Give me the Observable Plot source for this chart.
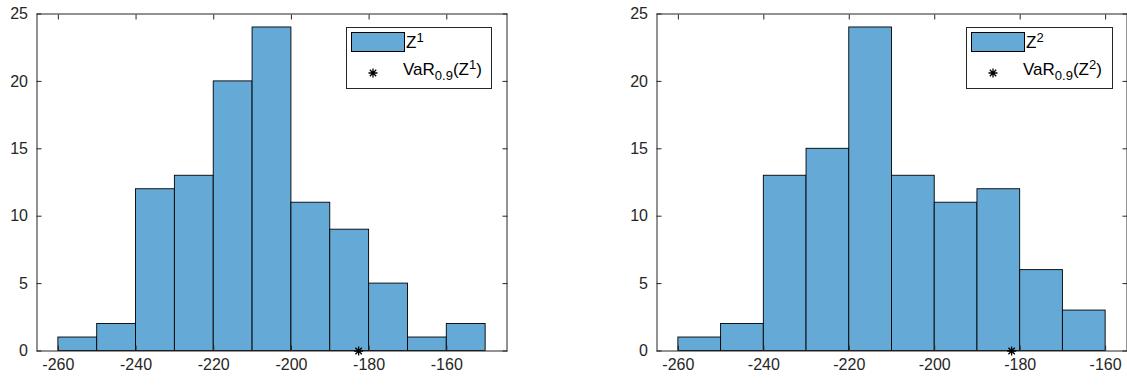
<!DOCTYPE html>
<html><head><meta charset="utf-8">
<script src="https://cdn.jsdelivr.net/npm/d3@7"></script>
<script src="https://cdn.jsdelivr.net/npm/@observablehq/plot@0.6"></script>
<style>
body{margin:0;background:#fff;}
#wrap{position:relative;width:1127px;height:385px;overflow:hidden;font-family:"Liberation Sans",Arial,sans-serif;color:#262626;background:#fff;}
.panel{position:absolute;top:0;}
.legend{position:absolute;top:27px;height:62px;border:1px solid #262626;background:#fff;box-sizing:border-box;font-size:17px;color:#000;}
.sw{position:absolute;left:4px;top:4px;width:54px;height:20px;box-sizing:border-box;border:1px solid #000;background:#65a9d7;}
.t1{position:absolute;left:59px;top:6px;line-height:18px;white-space:nowrap;}
.t2{position:absolute;left:56px;top:33px;line-height:18px;white-space:nowrap;}
.ast{position:absolute;left:20px;top:39px;}
sup{font-size:13px;vertical-align:6px;line-height:0;}
sub{font-size:13px;vertical-align:-5px;line-height:0;}
</style></head>
<body>
<div id="wrap"></div>
<script>
// Data
const binStarts1 = [-260,-250,-240,-230,-220,-210,-200,-190,-180,-170,-160];
const counts1 = [1,2,12,13,20,24,11,9,5,1,2];
const binStarts2 = [-260,-250,-240,-230,-220,-210,-200,-190,-180,-170];
const counts2 = [1,2,13,15,24,13,11,12,6,3];
const binWidth = 10;
const var1 = -182.7;
const var2 = -182.0;
const xTicks = [-260,-240,-220,-200,-180,-160];
const yTicks = [0,5,10,15,20,25];
const seriesNames = ["Z", "Z"];
const seriesIdx = ["1", "2"];

const barColor = "#65a9d7";
const star = {draw(ctx, size){
  const r = Math.sqrt(size/Math.PI), d = r*Math.SQRT1_2;
  ctx.moveTo(-r,0);ctx.lineTo(r,0);ctx.moveTo(0,-r);ctx.lineTo(0,r);
  ctx.moveTo(-d,-d);ctx.lineTo(d,d);ctx.moveTo(-d,d);ctx.lineTo(d,-d);
}};

function panel(starts, counts, varX, domain, width, ml, mr){
  const bars = starts.map((s,i)=>({x1:s, x2:s+binWidth, y:counts[i]}));
  const blank = () => "";
  const fmt = d => String(d);
  return Plot.plot({
    width, height:385, marginLeft:ml, marginRight:mr, marginTop:13.5, marginBottom:34.5,
    x:{domain, label:null},
    y:{domain:[0,25], label:null},
    style:{fontFamily:'"Liberation Sans",Arial,sans-serif', fontSize:"16px", color:"#262626", background:"white", overflow:"visible"},
    marks:[
      Plot.rectY(bars,{x1:"x1",x2:"x2",y1:0,y2:"y",fill:barColor,stroke:"#000",strokeWidth:0.9}),
      Plot.frame({stroke:"#262626"}),
      Plot.axisX(xTicks,{tickSize:0,tickPadding:8,tickFormat:fmt,label:null}),
      Plot.axisX(xTicks,{tickSize:-5,tickFormat:blank,label:null}),
      Plot.axisX(xTicks,{anchor:"top",tickSize:-5,tickFormat:blank,label:null}),
      Plot.axisY(yTicks,{tickSize:0,tickPadding:9,tickFormat:fmt,label:null}),
      Plot.axisY(yTicks,{tickSize:-5,tickFormat:blank,label:null}),
      Plot.axisY(yTicks,{anchor:"right",tickSize:-5,tickFormat:blank,label:null}),
      Plot.dot([{x:varX,y:0}],{x:"x",y:"y",symbol:star,r:4.5,fill:"none",stroke:"#000",strokeWidth:1.3})
    ]
  });
}

const wrap = document.getElementById("wrap");
const p1 = panel(binStarts1, counts1, var1, [-265.5,-144.5], 563, 36.5, 56.5);
p1.classList.add("panel"); p1.style.left = "0px";
const p2 = panel(binStarts2, counts2, var2, [-265,-155], 564, 93.5, 0.5);
p2.classList.add("panel"); p2.style.left = "563px";
wrap.appendChild(p1); wrap.appendChild(p2);

const astSvg = '<svg class="ast" width="12" height="12" viewBox="-6 -6 12 12"><path d="M-4.5,0L4.5,0M0,-4.5L0,4.5M-3.2,-3.2L3.2,3.2M-3.2,3.2L3.2,-3.2" stroke="#000" stroke-width="1.3"/></svg>';
function legend(left, w, k){
  const d = document.createElement("div");
  d.className = "legend";
  d.style.left = left + "px"; d.style.width = w + "px";
  d.innerHTML = '<div class="sw"></div><div class="t1">' + seriesNames[k] + '<sup>' + seriesIdx[k] + '</sup></div>' +
    astSvg + '<div class="t2">VaR<sub>0.9</sub>(' + seriesNames[k] + '<sup>' + seriesIdx[k] + '</sup>)</div>';
  wrap.appendChild(d);
}
legend(346, 146, 0);
legend(966, 147, 1);
</script>
</body></html>
